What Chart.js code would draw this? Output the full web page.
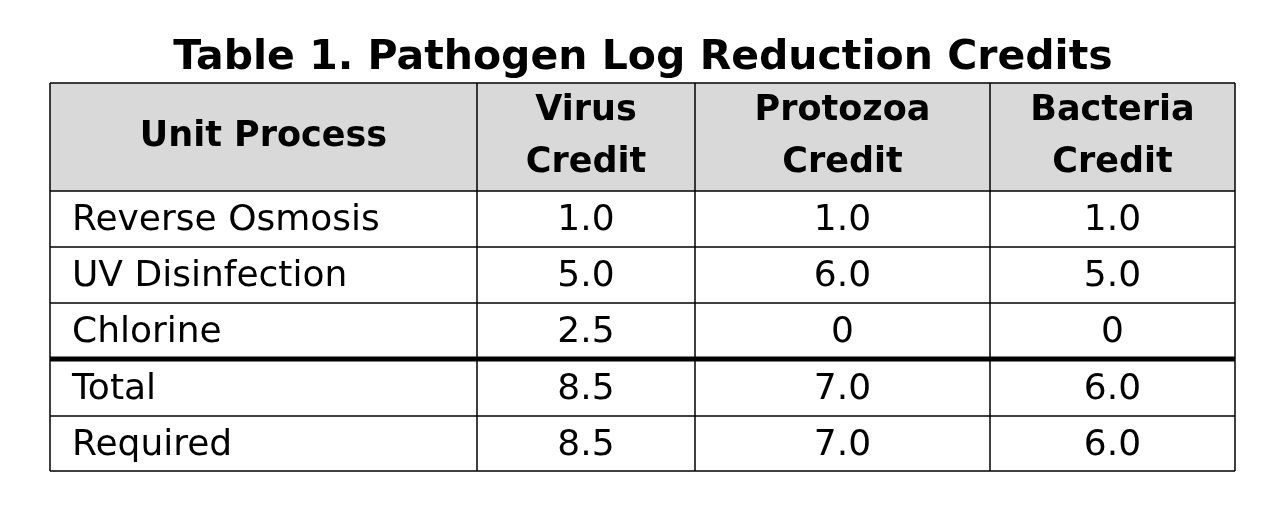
<!DOCTYPE html>
<html>
<head>
<meta charset="utf-8">
<script src="https://cdn.jsdelivr.net/npm/chart.js@4"></script>
<style>
  html, body { margin: 0; padding: 0; background: #fff; }
  #wrap { width: 1278px; height: 516px; }
</style>
</head>
<body>
<div id="wrap"><canvas id="chart"></canvas></div>
<script>
// table contents
const title = 'Table 1. Pathogen Log Reduction Credits';
const headers = [['Unit Process'], ['Virus', 'Credit'], ['Protozoa', 'Credit'], ['Bacteria', 'Credit']];
const processes = ['Reverse Osmosis', 'UV Disinfection', 'Chlorine', 'Total', 'Required'];
const virusCredit = ['1.0', '5.0', '2.5', '8.5', '8.5'];
const protozoaCredit = ['1.0', '6.0', '0', '7.0', '7.0'];
const bacteriaCredit = ['1.0', '5.0', '0', '6.0', '6.0'];

// layout (in scale units = pixels of the picture)
const colEdges = [50, 477, 695, 990, 1235];
const rowEdges = [83, 191, 247, 303, 359, 416, 471];
const FONT = '"DejaVu Sans", Verdana, sans-serif';

const tablePlugin = {
  id: 'table',
  afterDraw(chart) {
    const ctx = chart.ctx;
    const x = v => chart.scales.x.getPixelForValue(v);
    const y = v => chart.scales.y.getPixelForValue(v);
    ctx.save();
    // title
    ctx.fillStyle = '#000';
    ctx.font = 'bold 41px ' + FONT;
    ctx.textAlign = 'center';
    ctx.textBaseline = 'middle';
    ctx.fillText(title, x(643), y(58));
    // header background
    ctx.fillStyle = '#d9d9d9';
    ctx.fillRect(x(colEdges[0]), y(rowEdges[0]), x(colEdges[4]) - x(colEdges[0]), y(rowEdges[1]) - y(rowEdges[0]));
    // grid
    ctx.strokeStyle = '#000';
    ctx.lineWidth = 1.5;
    rowEdges.forEach(r => {
      ctx.beginPath();
      ctx.moveTo(x(colEdges[0]), y(r));
      ctx.lineTo(x(colEdges[4]), y(r));
      ctx.stroke();
    });
    colEdges.forEach(c => {
      ctx.beginPath();
      ctx.moveTo(x(c), y(rowEdges[0]));
      ctx.lineTo(x(c), y(rowEdges[6]));
      ctx.stroke();
    });
    ctx.lineWidth = 5;
    ctx.beginPath();
    ctx.moveTo(x(colEdges[0]), y(rowEdges[4]));
    ctx.lineTo(x(colEdges[4]), y(rowEdges[4]));
    ctx.stroke();
    // headers
    ctx.fillStyle = '#000';
    ctx.font = 'bold 35px ' + FONT;
    headers.forEach((h, i) => {
      const cx = (colEdges[i] + colEdges[i + 1]) / 2;
      const cy = (rowEdges[0] + rowEdges[1]) / 2;
      if (h.length === 1) {
        ctx.fillText(h[0], x(cx), y(cy));
      } else {
        ctx.fillText(h[0], x(cx), y(cy - 26));
        ctx.fillText(h[1], x(cx), y(cy + 26));
      }
    });
    // body
    ctx.font = '36px ' + FONT;
    const cols = [virusCredit, protozoaCredit, bacteriaCredit];
    processes.forEach((p, r) => {
      const cy = (rowEdges[r + 1] + rowEdges[r + 2]) / 2 + 2;
      ctx.textAlign = 'left';
      ctx.fillText(p, x(colEdges[0] + 22), y(cy));
      ctx.textAlign = 'center';
      cols.forEach((col, i) => {
        ctx.fillText(col[r], x((colEdges[i + 1] + colEdges[i + 2]) / 2), y(cy));
      });
    });
    ctx.restore();
  }
};

const ctx = document.getElementById('chart').getContext('2d');
new Chart(ctx, {
  type: 'scatter',
  data: { datasets: [{ data: [] }] },
  options: {
    responsive: true,
    maintainAspectRatio: false,
    animation: false,
    layout: { padding: 0 },
    plugins: { legend: { display: false }, tooltip: { enabled: false } },
    scales: {
      x: { type: 'linear', min: 0, max: 1278, display: false },
      y: { type: 'linear', min: 0, max: 516, reverse: true, display: false }
    }
  },
  plugins: [tablePlugin]
});
</script>
</body>
</html>
